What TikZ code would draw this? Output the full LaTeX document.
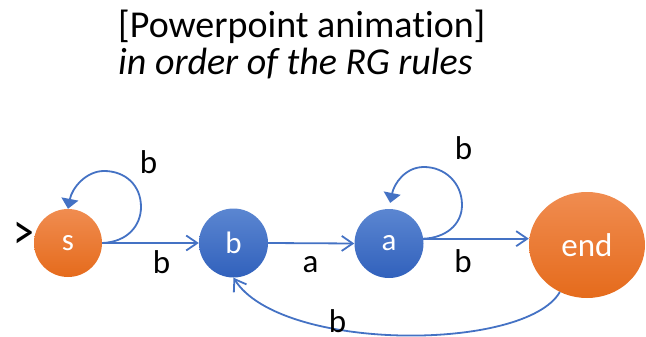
\documentclass[tikz,border=0pt]{standalone}
\usepackage{fontspec}
\setmainfont{Carlito}[Ligatures=NoCommon]
\usetikzlibrary{arrows.meta,shapes.geometric}
\definecolor{orTop}{HTML}{F08C50}
\definecolor{orBot}{HTML}{E56B1C}
\definecolor{blTop}{HTML}{5B86D1}
\definecolor{blBot}{HTML}{3161BC}
\definecolor{edgeblue}{HTML}{4472C4}
\begin{document}
\begin{tikzpicture}[x=1pt,y=-1pt,
  stateor/.style={circle, minimum size=68pt, inner sep=0pt, top color=orTop, bottom color=orBot, draw=none, text=white, font=\fontsize{31}{36}\selectfont},
  statebl/.style={circle, minimum size=69pt, inner sep=0pt, top color=blTop, bottom color=blBot, draw=none, text=white, font=\fontsize{31}{36}\selectfont},
  endstate/.style={ellipse, minimum width=116pt, minimum height=106pt, inner sep=0pt, top color=orTop, bottom color=orBot, draw=none, text=white, font=\fontsize{33}{38}\selectfont},
  edge/.style={draw=edgeblue, line width=1.8pt, -{Straight Barb[length=11pt,width=15pt,line width=1.8pt]}},
  loopedge/.style={draw=edgeblue, line width=1.8pt, -{Triangle[length=10pt,width=17pt]}},
  lbl/.style={font=\fontsize{33}{38}\selectfont, anchor=base, inner sep=0pt},
  title/.style={font=\fontsize{38}{44}\selectfont, anchor=base west, inner sep=0pt}
]
\useasboundingbox (0,0) rectangle (646,337);

\node[title] (t1) at (118,38) {[Powerpoint animation]};
\node[title] (t2) at (118,75) {\itshape in order of the RG rules};

\node[stateor] (s) at (68,243) {s};
\node[statebl] (b) at (233.5,243) {b};
\node[statebl] (a) at (389,243.5) {a};
\node[endstate] (end) at (587,245) {end};

\node[font=\fontsize{36}{40}\selectfont, inner sep=0pt] (start) at (23.5,236) {\scalebox{1.15}[1.45]{>}};

% s self loop
\draw[loopedge] (s.east) .. controls (128,242) and (141,225) .. (141,207)
  .. controls (141,185) and (125,171) .. (104,171)
  .. controls (86,171) and (72,188) .. (s.north);
\node[lbl] (ls) at (148.5,173) {b};

% s -> b
\draw[edge] (s.east) -- (b.west);
\node[lbl] (lsb) at (161.5,273) {b};

% b -> a
\draw[edge] (b.east) -- (a.west);
\node[lbl] (lba) at (310.5,272) {a};

% a self loop
\draw[loopedge, shorten >=6pt] (a.8) .. controls (445,238) and (462,225) .. (462,205)
  .. controls (462,183) and (445,167) .. (424,167)
  .. controls (405,167) and (394,184) .. (a.north);
\node[lbl] (la) at (463.5,160) {b};

% a -> end
\draw[edge] (a.8) -- (a.8 -| end.west);
\node[lbl] (lae) at (463,272) {b};

% end -> b
\draw[edge] (end.240) .. controls (525,352) and (280,352) .. (b.south);
\node[lbl] (leb) at (337.5,332) {b};
\end{tikzpicture}
\end{document}
